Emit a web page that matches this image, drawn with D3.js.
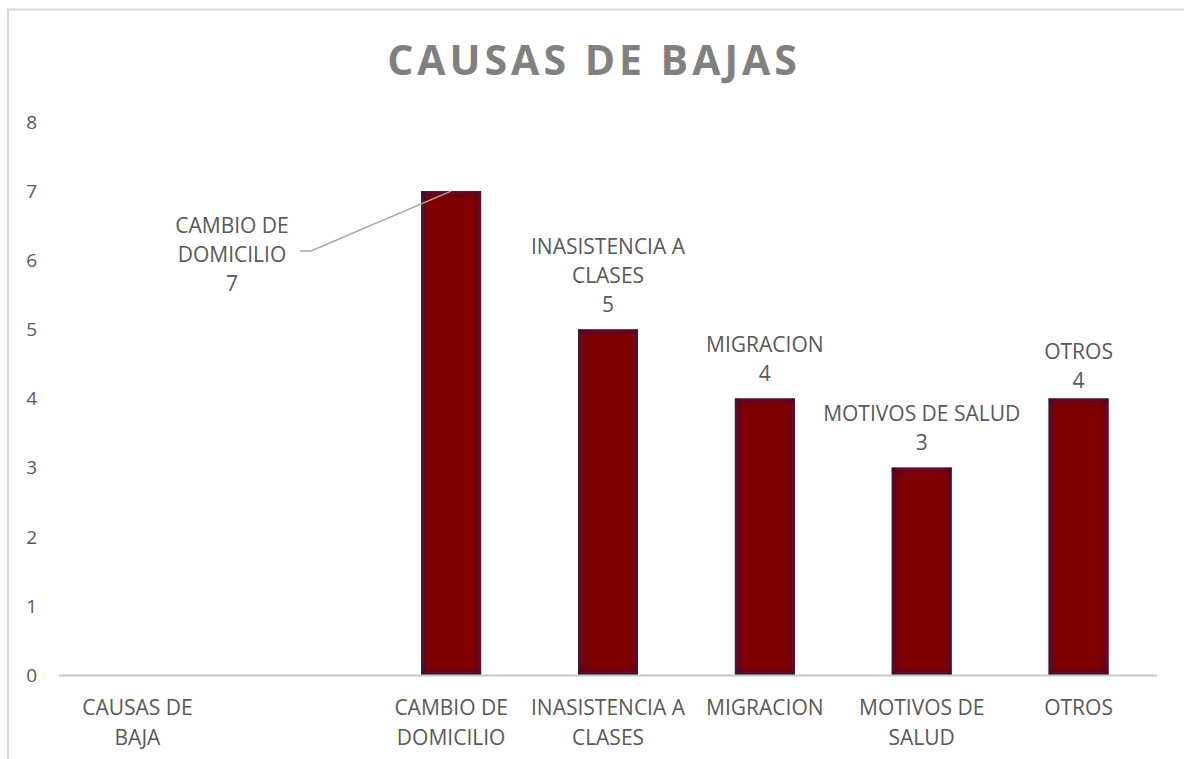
<!DOCTYPE html>
<html>
<head>
<meta charset="utf-8">
<script src="https://cdn.jsdelivr.net/npm/d3@7"></script>
<style>
  body { margin: 0; background: #fff; }
  svg { display: block; font-family: "Open Sans", sans-serif; }
</style>
</head>
<body>
<svg id="chart" width="1184" height="759"></svg>
<script>
// chart data
const categories = ["CAUSAS DE BAJA", "", "CAMBIO DE DOMICILIO", "INASISTENCIA A CLASES", "MIGRACION", "MOTIVOS DE SALUD", "OTROS"];
const values = [null, null, 7, 5, 4, 3, 4];
const tickLines = [["CAUSAS DE", "BAJA"], [""], ["CAMBIO DE", "DOMICILIO"], ["INASISTENCIA A", "CLASES"], ["MIGRACION"], ["MOTIVOS DE", "SALUD"], ["OTROS"]];
const labelLines = [[], [], ["CAMBIO DE", "DOMICILIO"], ["INASISTENCIA A", "CLASES"], ["MIGRACION"], ["MOTIVOS DE SALUD"], ["OTROS"]];
const yTicks = [0, 1, 2, 3, 4, 5, 6, 7, 8];
const title = "CAUSAS DE BAJAS";

const svg = d3.select("#chart");
const textColor = "#595959";

// chart frame (runs off the right / bottom edge)
svg.append("rect")
    .attr("x", 8).attr("y", 9.5)
    .attr("width", 1300).attr("height", 900)
    .attr("fill", "none").attr("stroke", "#d9d9d9").attr("stroke-width", 2);

// inner shadow for the bars
const defs = svg.append("defs");
const f = defs.append("filter").attr("id", "inner")
    .attr("x", "-20%").attr("y", "-10%").attr("width", "140%").attr("height", "120%");
f.append("feFlood").attr("flood-color", "#2a1436").attr("result", "flood");
f.append("feComposite").attr("in", "flood").attr("in2", "SourceAlpha").attr("operator", "out").attr("result", "outside");
f.append("feGaussianBlur").attr("in", "outside").attr("stdDeviation", 4).attr("result", "blur");
f.append("feComposite").attr("in", "blur").attr("in2", "SourceAlpha").attr("operator", "in").attr("result", "shadow");
const merge = f.append("feMerge");
merge.append("feMergeNode").attr("in", "SourceGraphic");
merge.append("feMergeNode").attr("in", "shadow");
merge.append("feMergeNode").attr("in", "shadow");

const x = d3.scaleBand().domain(d3.range(categories.length)).range([59, 1157]).paddingInner(0).paddingOuter(0);
const y = d3.scaleLinear().domain([0, 8]).range([675, 122]);
const barW = x.bandwidth() * 0.382;

// title
svg.append("text")
    .attr("x", 594).attr("y", 75)
    .attr("text-anchor", "middle")
    .attr("font-size", 41).attr("font-weight", 700)
    .attr("letter-spacing", 4)
    .attr("fill", "#808080")
    .text(title);

// y axis labels
svg.append("g").selectAll("text")
    .data(yTicks)
    .join("text")
    .attr("x", 37).attr("y", d => y(d))
    .attr("dy", "0.36em")
    .attr("text-anchor", "end")
    .attr("font-size", 19).attr("fill", textColor)
    .text(d => d);

// bars
const bars = categories.map((c, i) => ({c, i, v: values[i]})).filter(d => d.v != null);
svg.append("g").selectAll("rect")
    .data(bars)
    .join("rect")
    .attr("x", d => x(d.i) + (x.bandwidth() - barW) / 2)
    .attr("y", d => y(d.v))
    .attr("width", barW)
    .attr("height", d => y(0) - y(d.v))
    .attr("fill", "#800000")
    .attr("filter", "url(#inner)");

// x axis line
svg.append("line")
    .attr("x1", x.range()[0]).attr("x2", x.range()[1])
    .attr("y1", y(0) + 0.5).attr("y2", y(0) + 0.5)
    .attr("stroke", "#c8c8c8").attr("stroke-width", 2);

// category labels
svg.append("g").selectAll("text")
    .data(tickLines)
    .join("text")
    .attr("text-anchor", "middle")
    .attr("font-size", 21).attr("fill", textColor)
    .each(function(lines, i) {
        d3.select(this).selectAll("tspan")
            .data(lines)
            .join("tspan")
            .attr("x", x(i) + x.bandwidth() / 2)
            .attr("y", (d, k) => 715 + k * 30)
            .text(d => d);
    });

// data labels; the first one is pulled out with a leader line, OTROS sits a bit lower
const labelPos = {
    2: {x: 232, base: 291},
    6: {dy: 7}
};
const lineH = 29;
svg.append("g").selectAll("text")
    .data(bars)
    .join("text")
    .attr("text-anchor", "middle")
    .attr("font-size", 21).attr("fill", textColor)
    .each(function(d) {
        const p = labelPos[d.i] || {};
        const cx = p.x != null ? p.x : x(d.i) + x.bandwidth() / 2;
        const base = p.base != null ? p.base : y(d.v) - 17.5 + (p.dy || 0);
        const lines = labelLines[d.i].concat([String(d.v)]);
        d3.select(this).selectAll("tspan")
            .data(lines)
            .join("tspan")
            .attr("x", cx)
            .attr("y", (t, k) => base - (lines.length - 1 - k) * lineH)
            .text(t => t);
    });

// leader line for CAMBIO DE DOMICILIO
const b = bars.find(d => d.i === 2);
svg.append("path")
    .attr("d", d3.line()([[300, 251], [311, 251], [x(b.i) + x.bandwidth() / 2, y(b.v)]]))
    .attr("fill", "none").attr("stroke", "#a6a6a6").attr("stroke-width", 1.5);
</script>
</body>
</html>
